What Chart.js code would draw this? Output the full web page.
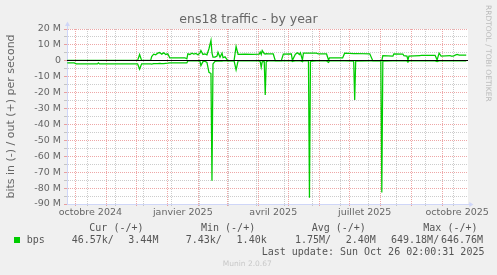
<!DOCTYPE html>
<html><head><meta charset="utf-8">
<script src="https://cdn.jsdelivr.net/npm/chart.js@4.4.1/dist/chart.umd.min.js"></script>
<style>
html,body{margin:0;padding:0;background:#f0f0f0;}
#wrap{position:relative;width:497px;height:275px;overflow:hidden;background:#f0f0f0;}
canvas{position:absolute;left:0;top:0;}
.t{position:absolute;white-space:pre;font-family:'DejaVu Sans';color:#666;}
.m{position:absolute;white-space:pre;font-family:'DejaVu Sans Mono';font-size:10px;line-height:10px;color:#555;}
</style></head>
<body><div id="wrap">
<canvas id="c" width="497" height="275"></canvas>
<div class="t" style="left:0;width:497px;text-align:center;top:13.4px;font-size:12.5px;line-height:12.5px;">ens18 traffic - by year</div>
<div class="t" style="left:491.8px;top:5px;font-size:7.5px;line-height:8px;color:#bbb;transform-origin:0 0;transform:rotate(90deg);">RRDTOOL / TOBI OETIKER</div>
<div id="legend"></div>
</div>
<script>
// ---- data ----
const dates = ['2024-09-23','2024-09-30','2024-10-02','2024-10-23','2024-10-24','2024-10-25','2024-12-02','2024-12-04','2024-12-06','2024-12-15',
'2024-12-16','2024-12-18','2024-12-20','2024-12-22','2024-12-24','2024-12-26','2024-12-28','2024-12-30','2025-01-01','2025-01-03',
'2025-01-18','2025-01-20','2025-01-21','2025-01-23','2025-01-25','2025-01-27','2025-01-29','2025-01-31','2025-02-02','2025-02-03',
'2025-02-05','2025-02-07','2025-02-09','2025-02-11','2025-02-13','2025-02-14','2025-02-15','2025-02-17','2025-02-19','2025-02-20',
'2025-02-22','2025-02-24','2025-02-25','2025-02-27','2025-03-01','2025-03-02','2025-03-08','2025-03-10','2025-03-12','2025-03-19',
'2025-03-26','2025-04-02','2025-04-03','2025-04-04','2025-04-05','2025-04-07','2025-04-08','2025-04-09','2025-04-11','2025-04-16',
'2025-04-18','2025-04-24','2025-04-26','2025-05-04','2025-05-05','2025-05-08','2025-05-10','2025-05-12','2025-05-13','2025-05-15',
'2025-05-16','2025-05-21','2025-05-22','2025-05-23','2025-05-29','2025-05-31','2025-06-08','2025-06-10','2025-06-11','2025-06-24',
'2025-06-26','2025-07-05','2025-07-06','2025-07-07','2025-07-21','2025-07-24','2025-07-31','2025-08-01','2025-08-02','2025-08-03',
'2025-08-13','2025-08-14','2025-08-23','2025-08-24','2025-08-27','2025-08-28','2025-08-29','2025-09-09','2025-09-10','2025-09-24',
'2025-09-26','2025-09-28','2025-09-30','2025-10-09','2025-10-10','2025-10-12','2025-10-14','2025-10-16','2025-10-18','2025-10-25'];
const outMbps = [0.3,0.3,0.3,0.3,0.3,0.3,0.3,4.0,0.3,0.3,
2.7,4.2,3.8,4.8,5.2,4.2,5.0,4.0,4.4,1.9,
1.9,1.3,4.4,4.0,4.8,4.2,4.6,3.8,4.8,6.5,
4.0,4.4,3.8,7.6,12.8,5.0,2.3,2.3,3.0,5.4,
2.3,4.8,2.0,2.5,0.7,0.1,0.1,9.0,4.0,4.2,
4.0,4.2,5.5,4.0,6.5,4.5,4.2,4.5,4.3,4.3,
0.1,0.1,4.2,4.3,0.3,4.2,5.0,4.0,5.0,0.5,
4.8,4.8,4.8,4.8,4.8,4.3,4.3,0.5,1.9,1.8,
4.8,4.6,4.6,4.6,4.4,0.1,0.1,0.1,0.1,3.3,
2.9,4.4,4.2,3.2,3.0,0.5,3.0,3.2,3.5,3.5,
0.6,4.8,2.9,3.3,2.9,2.9,3.6,4.0,3.6,3.6];
const inMbps = [-1.3,-1.3,-1.9,-1.9,-1.3,-1.9,-1.9,-5.3,-1.9,-1.9,
-2.1,-1.8,-1.7,-1.7,-1.6,-1.7,-1.7,-1.6,-1.5,-1.3,
-1.3,-1.3,-0.1,-0.1,-0.1,-0.1,-0.1,-0.1,-0.2,-3.0,
-0.5,-0.2,-1.0,-7.2,-8.0,-75.4,-2.0,-0.3,-0.2,-0.2,
-0.2,-0.2,-0.1,-0.1,-0.1,-0.05,-0.05,-5.7,-0.1,-0.1,
-0.1,-0.1,-0.5,-4.0,-0.5,-0.3,-21.4,-0.5,-0.1,-0.1,
-0.05,-0.05,-0.1,-0.1,-0.3,-0.1,-0.1,-0.1,-0.1,-0.5,
-0.1,-0.1,-86.0,-0.3,-0.1,-0.1,-0.1,-1.0,-0.1,-0.1,
-0.1,-0.2,-24.6,-0.2,-0.1,-0.05,-0.05,-0.05,-82.8,-0.2,
-0.1,-0.1,-0.1,-0.1,-0.1,-0.8,-0.1,-0.1,-0.1,-0.1,
-0.5,-0.1,-0.1,-0.1,-0.1,-0.1,-0.1,-0.1,-0.1,-0.05];
const yTickValues = [-90,-85,-80,-75,-70,-65,-60,-55,-50,-45,-40,-35,-30,-25,-20,-15,-10,-5,0,5,10,15,20];
const xLabelDates = ['2024-10-16','2025-01-16','2025-04-16','2025-07-16','2025-10-16'];
const xLabels = ['octobre 2024','janvier 2025','avril 2025','juillet 2025','octobre 2025'];
const legendHeaders = ['Cur (-/+)','Min (-/+)','Avg (-/+)','Max (-/+)'];
const legendValues = ['46.57k/','3.44M','7.43k/','1.40k','1.75M/','2.40M','649.18M/','646.76M'];
const seriesName = 'bps';
const lastUpdate = 'Last update: Sun Oct 26 02:00:31 2025';
const yTitle = 'bits in (-) / out (+) per second';

// ---- legend (HTML text) ----
const lg = document.getElementById('legend');
function addText(cls, txt, left, top, extra){ const d=document.createElement('div'); d.className=cls; d.textContent=txt; d.style.left=left+'px'; d.style.top=top+'px'; if(extra) Object.assign(d.style, extra); lg.appendChild(d); }
const headerX = [89.3, 201, 311.7, 423.3];
legendHeaders.forEach((h,i)=>addText('m', h, headerX[i], 222.5));
const valueX = [71.7, 128.3, 185.7, 236.6, 295, 345.7, 391, 441];
legendValues.forEach((v,i)=>addText('m', v, valueX[i], 235));
addText('m', seriesName, 26.7, 235);
const sq=document.createElement('div'); Object.assign(sq.style,{position:'absolute',left:'14px',top:'237px',width:'6px',height:'6px',background:'#00cc00'}); lg.appendChild(sq);
addText('m', lastUpdate, 261.7, 247.1);
addText('t', 'Munin 2.0.67', 222.7, 260.2, {fontSize:'7.5px', lineHeight:'7.5px', color:'#c8c8c8'});

// ---- chart ----
const DAY = 86400000;
const toMs = s => { const p = s.split('-').map(Number); return Date.UTC(p[0], p[1]-1, p[2]); };
const xMin = Date.UTC(2024,8,22,18);
const xMax = Date.UTC(2025,9,26,18);
const MGRID = 'rgba(222,79,79,0.5)', GRID = 'rgba(143,143,143,0.45)', NONE = 'rgba(0,0,0,0)';

const tickInfo = new Map();
function addTick(v, type, label){ if (v < xMin || v > xMax || tickInfo.has(v)) return; tickInfo.set(v, {type, label}); }
for (let k = 0; k <= 13; k++) addTick(Date.UTC(2024, 9 + k, 1), 'major', '');
const minorAnchor = Date.UTC(2025, 6, 20);
for (let k = -14; k <= 6; k++) addTick(minorAnchor + k * 28 * DAY, 'minor', '');
xLabelDates.forEach((d,i)=>addTick(toMs(d), 'label', xLabels[i]));
const xTicks = Array.from(tickInfo.keys()).sort((a,b)=>a-b);

function xGrid(c){ const t = c.tick ? tickInfo.get(c.tick.value) : null; if (!t) return NONE; return t.type==='major' ? MGRID : (t.type==='minor' ? GRID : NONE); }
function yGrid(c){ if (!c.tick) return GRID; return (Math.abs(c.tick.value) % 10 === 0) ? MGRID : GRID; }

const align = (p) => Math.round(p - 0.5) + 0.5;
const decor = {
  id: 'decor',
  beforeDraw(chart){
    const {ctx, chartArea:a} = chart;
    ctx.save();
    ctx.fillStyle = '#f0f0f0'; ctx.fillRect(0,0,chart.width,chart.height);
    ctx.fillStyle = '#ffffff'; ctx.fillRect(a.left, a.top, a.right-a.left, a.bottom-a.top);
    ctx.restore();
  },
  afterDatasetsDraw(chart){
    const {ctx, chartArea:a} = chart;
    const y0 = align(chart.scales.y.getPixelForValue(0));
    ctx.save(); ctx.strokeStyle = '#000'; ctx.lineWidth = 1;
    ctx.beginPath(); ctx.moveTo(a.left, y0); ctx.lineTo(a.right, y0); ctx.stroke(); ctx.restore();
  },
  afterDraw(chart){
    const {ctx, chartArea:a} = chart;
    const xl = align(a.left), yb = align(a.bottom);
    ctx.save(); ctx.strokeStyle = '#cfd6f8'; ctx.fillStyle = '#cfd6f8'; ctx.lineWidth = 1;
    ctx.beginPath(); ctx.moveTo(xl, a.top); ctx.lineTo(xl, a.top-4); ctx.stroke();
    ctx.beginPath(); ctx.moveTo(xl-2.5, a.top-3); ctx.lineTo(xl+2.5, a.top-3); ctx.lineTo(xl, a.top-7.5); ctx.closePath(); ctx.fill();
    ctx.beginPath(); ctx.moveTo(a.right, yb); ctx.lineTo(a.right+2, yb); ctx.stroke();
    ctx.beginPath(); ctx.moveTo(a.right+1.3, yb-2.5); ctx.lineTo(a.right+1.3, yb+2.5); ctx.lineTo(a.right+5.5, yb); ctx.closePath(); ctx.fill();
    ctx.restore();
  }
};

const font = {family:'DejaVu Sans', size:9.5};
new Chart(document.getElementById('c'), {
  type: 'line',
  data: { datasets: [
    { label: 'out', data: dates.map((d,i)=>({x: toMs(d), y: outMbps[i]})), borderColor:'#00cc00', borderWidth:1.25, pointRadius:0, fill:false, tension:0 },
    { label: 'in',  data: dates.map((d,i)=>({x: toMs(d), y: inMbps[i]})),  borderColor:'#00cc00', borderWidth:1.25, pointRadius:0, fill:false, tension:0 }
  ]},
  options: {
    responsive:false, animation:false, devicePixelRatio:1,
    layout:{padding:{left:0, top:29, right:29, bottom:0}},
    plugins:{legend:{display:false}, tooltip:{enabled:false}, title:{display:false}},
    scales:{
      x:{ type:'linear', min:xMin, max:xMax,
          afterFit(s){ s.height = 71; },
          afterBuildTicks(s){ s.ticks = xTicks.map(v=>({value:v})); },
          ticks:{ autoSkip:false, maxRotation:0, minRotation:0, padding:1, color:'#666', font,
                  callback:(v)=> (tickInfo.get(v)||{}).label || '' },
          grid:{ color:xGrid, tickColor:xGrid, tickLength:2, lineWidth:1 },
          border:{ color:'#cfd6f8', width:1, dash:[1,1] } },
      y:{ min:-90, max:20,
          afterFit(s){ s.width = 67; },
          afterBuildTicks(s){ s.ticks = yTickValues.map(v=>({value:v})); },
          ticks:{ padding:3, color:'#666', font, autoSkip:false,
                  callback:(v)=> (v % 10 !== 0) ? '' : (v === 0 ? '0' : v + ' M') },
          grid:{ color:yGrid, tickColor:yGrid, tickLength:3, lineWidth:1 },
          border:{ color:'#cfd6f8', width:1, dash:[1,1] },
          title:{ display:true, text:yTitle, color:'#666', font:{family:'DejaVu Sans', size:11}, padding:{top:4.5, bottom:0} } }
    }
  },
  plugins:[decor]
});
</script>
</body></html>
